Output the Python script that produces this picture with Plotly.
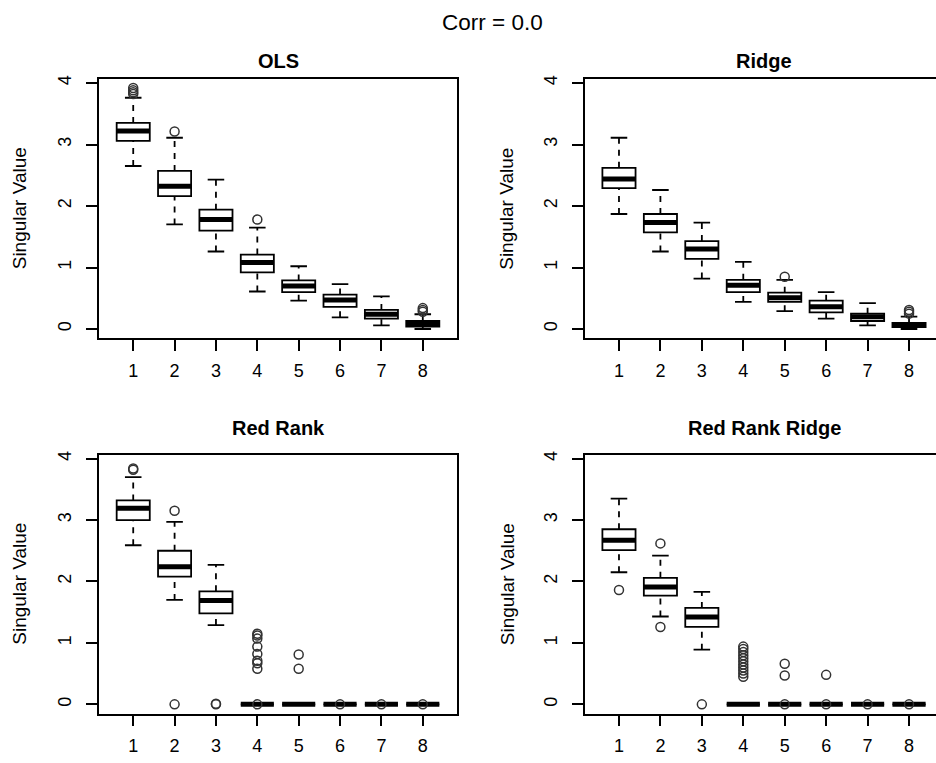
import plotly.graph_objects as go

# ---------------- data ----------------
positions = [1, 2, 3, 4, 5, 6, 7, 8]
tick_labels = ["1", "2", "3", "4", "5", "6", "7", "8"]
panel_titles = ["OLS", "Ridge", "Red Rank", "Red Rank Ridge"]
main_title = "Corr = 0.0"
y_title = "Singular Value"

# OLS
ols_lo = [2.65, 1.70, 1.26, 0.61, 0.46, 0.19, 0.06, 0.00]
ols_q1 = [3.06, 2.16, 1.60, 0.92, 0.60, 0.36, 0.17, 0.04]
ols_med = [3.22, 2.32, 1.78, 1.08, 0.70, 0.47, 0.24, 0.08]
ols_q3 = [3.35, 2.57, 1.94, 1.21, 0.79, 0.56, 0.31, 0.13]
ols_hi = [3.76, 3.11, 2.43, 1.65, 1.02, 0.73, 0.53, 0.24]
ols_out = [[3.82, 3.85, 3.88, 3.92], [3.21], [], [1.78], [], [], [], [0.28, 0.31, 0.34]]

# Ridge
ridge_lo = [1.87, 1.26, 0.82, 0.44, 0.29, 0.17, 0.06, 0.00]
ridge_q1 = [2.29, 1.57, 1.14, 0.60, 0.44, 0.27, 0.13, 0.03]
ridge_med = [2.44, 1.73, 1.30, 0.71, 0.51, 0.36, 0.20, 0.06]
ridge_q3 = [2.62, 1.87, 1.43, 0.80, 0.59, 0.46, 0.25, 0.10]
ridge_hi = [3.11, 2.26, 1.73, 1.09, 0.80, 0.60, 0.42, 0.20]
ridge_out = [[], [], [], [], [0.85], [], [], [0.25, 0.28, 0.31]]

# Red Rank
rr_lo = [2.59, 1.70, 1.29, 0.0, 0.0, 0.0, 0.0, 0.0]
rr_q1 = [3.00, 2.08, 1.48, 0.0, 0.0, 0.0, 0.0, 0.0]
rr_med = [3.19, 2.24, 1.69, 0.0, 0.0, 0.0, 0.0, 0.0]
rr_q3 = [3.32, 2.50, 1.84, 0.0, 0.0, 0.0, 0.0, 0.0]
rr_hi = [3.70, 2.97, 2.27, 0.0, 0.0, 0.0, 0.0, 0.0]
rr_out = [[3.82, 3.84], [3.15, 0.0], [0.0, 0.01],
          [1.15, 1.12, 1.07, 0.94, 0.82, 0.71, 0.67, 0.58, 0.0],
          [0.81, 0.58], [0.0], [0.0], [0.0]]

# Red Rank Ridge
rrr_lo = [2.15, 1.43, 0.89, 0.0, 0.0, 0.0, 0.0, 0.0]
rrr_q1 = [2.51, 1.77, 1.26, 0.0, 0.0, 0.0, 0.0, 0.0]
rrr_med = [2.67, 1.91, 1.42, 0.0, 0.0, 0.0, 0.0, 0.0]
rrr_q3 = [2.85, 2.06, 1.57, 0.0, 0.0, 0.0, 0.0, 0.0]
rrr_hi = [3.35, 2.42, 1.83, 0.0, 0.0, 0.0, 0.0, 0.0]
rrr_out = [[1.86], [2.62, 1.26], [0.0],
           [0.94, 0.90, 0.85, 0.80, 0.75, 0.70, 0.65, 0.60, 0.55, 0.50, 0.45],
           [0.66, 0.47, 0.0], [0.48, 0.0], [0.0], [0.0]]

panels = [
    (ols_lo, ols_q1, ols_med, ols_q3, ols_hi, ols_out),
    (ridge_lo, ridge_q1, ridge_med, ridge_q3, ridge_hi, ridge_out),
    (rr_lo, rr_q1, rr_med, rr_q3, rr_hi, rr_out),
    (rrr_lo, rrr_q1, rrr_med, rrr_q3, rrr_hi, rrr_out),
]

# ---------------- style / layout ----------------
W, H = 936, 763
FONT = "Liberation Sans, Arial, Helvetica, sans-serif"
BOX_HALF = 0.4
STAPLE_HALF = 0.2

# pixel geometry of plot regions (left, right, top, bottom)
regions = [
    (99.3, 456.7, 75.7, 336.0),
    (585.0, 936.0, 75.7, 336.0),
    (99.3, 456.7, 453.3, 713.3),
    (585.0, 936.0, 453.3, 713.3),
]
x_ranges = [[0.18, 8.82], [0.18, 8.651], [0.18, 8.82], [0.18, 8.651]]
y_range = [-0.15, 4.06]

fig = go.Figure()

for k, (lo, q1, med, q3, hi, outs) in enumerate(panels):
    xa = "x" if k == 0 else f"x{k+1}"
    ya = "y" if k == 0 else f"y{k+1}"

    # dashed whiskers
    wx, wy = [], []
    for p, a, b, c, d in zip(positions, lo, q1, q3, hi):
        wx += [p, p, None, p, p, None]
        wy += [a, b, None, c, d, None]
    fig.add_trace(go.Scatter(x=wx, y=wy, mode="lines", xaxis=xa, yaxis=ya,
                             line=dict(color="black", width=1.8, dash="6px,6px"),
                             hoverinfo="skip", showlegend=False))
    # staples
    sx, sy = [], []
    for p, a, d in zip(positions, lo, hi):
        sx += [p - STAPLE_HALF, p + STAPLE_HALF, None, p - STAPLE_HALF, p + STAPLE_HALF, None]
        sy += [a, a, None, d, d, None]
    fig.add_trace(go.Scatter(x=sx, y=sy, mode="lines", xaxis=xa, yaxis=ya,
                             line=dict(color="black", width=1.8),
                             hoverinfo="skip", showlegend=False))
    # boxes
    fig.add_trace(go.Box(x=positions, q1=q1, median=med, q3=q3,
                         lowerfence=q1, upperfence=q3, width=2 * BOX_HALF,
                         whiskerwidth=0, boxpoints=False,
                         fillcolor="white", line=dict(color="black", width=1.8),
                         xaxis=xa, yaxis=ya, showlegend=False, hoverinfo="skip"))
    # thick medians
    mx, my = [], []
    for p, m in zip(positions, med):
        mx += [p - BOX_HALF, p + BOX_HALF, None]
        my += [m, m, None]
    fig.add_trace(go.Scatter(x=mx, y=my, mode="lines", xaxis=xa, yaxis=ya,
                             line=dict(color="black", width=5),
                             hoverinfo="skip", showlegend=False))
    # outliers
    ox, oy = [], []
    for p, vals in zip(positions, outs):
        for v in vals:
            ox.append(p)
            oy.append(v)
    fig.add_trace(go.Scatter(x=ox, y=oy, mode="markers", xaxis=xa, yaxis=ya,
                             marker=dict(symbol="circle-open", size=9,
                                         color="#333333", line=dict(width=1.5)),
                             hoverinfo="skip", showlegend=False))

layout = dict(
    width=W, height=H,
    margin=dict(l=0, r=0, t=0, b=0),
    paper_bgcolor="white", plot_bgcolor="white",
    font=dict(family=FONT, color="black"),
    showlegend=False,
)

axis_common = dict(showgrid=False, zeroline=False, showline=True,
                   linecolor="black", linewidth=1.8,
                   ticks="outside", ticklen=11, tickwidth=1.8, tickcolor="black",
                   tickfont=dict(family=FONT, size=18, color="black"))

annotations = []
for k, (l, r, t, b) in enumerate(regions):
    sfx = "" if k == 0 else str(k + 1)
    right_col = k in (1, 3)
    layout["xaxis" + sfx] = dict(
        axis_common, domain=[l / W, r / W], range=x_ranges[k],
        tickmode="array", tickvals=positions, ticktext=tick_labels,
        mirror=True, anchor="y" + sfx, fixedrange=True,
        ticklabelstandoff=4)
    layout["yaxis" + sfx] = dict(
        axis_common, domain=[1 - b / H, 1 - t / H], range=y_range,
        tickmode="array", tickvals=[0, 1, 2, 3, 4], ticktext=["0", "1", "2", "3", "4"],
        tickangle=-90, mirror=not right_col, anchor="x" + sfx, fixedrange=True,
        ticklabelstandoff=8)
    # panel title
    cx = (l + (943.0 if right_col else r)) / 2
    ty = 57 if k < 2 else 426
    annotations.append(dict(text=f"<b>{panel_titles[k]}</b>", x=cx / W, y=1 - ty / H,
                            xref="paper", yref="paper", showarrow=False,
                            xanchor="center", yanchor="middle",
                            font=dict(family=FONT, size=20, color="black")))
    # y axis title
    yx = 19.5 if not right_col else 507
    annotations.append(dict(text=y_title, x=yx / W, y=1 - ((t + b) / 2) / H,
                            xref="paper", yref="paper", showarrow=False,
                            textangle=-90, xanchor="center", yanchor="middle",
                            font=dict(family=FONT, size=19, color="black")))

annotations.append(dict(text=main_title, x=492 / W, y=1 - 19 / H,
                        xref="paper", yref="paper", showarrow=False,
                        xanchor="center", yanchor="middle",
                        font=dict(family=FONT, size=22.5, color="black")))
layout["annotations"] = annotations

fig.update_layout(**layout)
fig.write_html("out.html",
               config={"displayModeBar": False, "displaylogo": False},
               post_script="document.body.style.margin='0';document.body.style.overflow='hidden';")
